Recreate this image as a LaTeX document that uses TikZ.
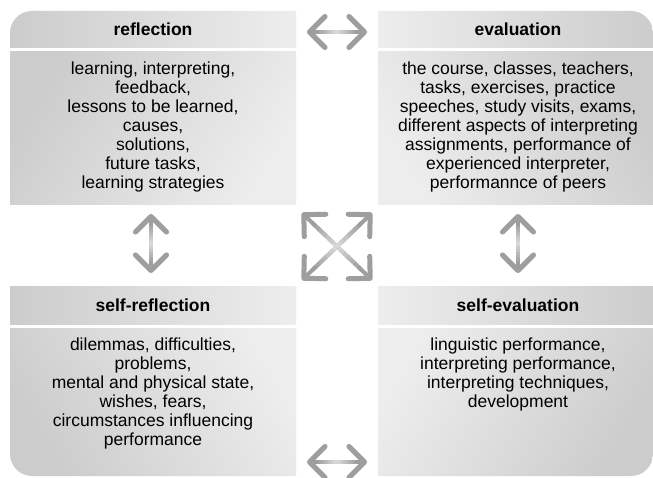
\documentclass[tikz,border=0pt]{standalone}
\usepackage{fontspec}
\setmainfont{Liberation Sans}
\usetikzlibrary{arrows.meta,calc}
\definecolor{PanelDark}{gray}{0.80}
\definecolor{PanelLight}{gray}{0.93}
\definecolor{ArrowClr}{gray}{0.62}

% double arrow, the shaft gets lighter towards its middle
\newcommand\twoway[2]{%
  \draw[arrowline] (#1) -- (#2);
  \foreach \k in {0,...,13}{%
    \pgfmathsetmacro\tone{14+24*abs(\k-6.5)/6.5}
    \pgfmathsetmacro\ta{0.15+0.05*\k}
    \pgfmathsetmacro\tb{0.205+0.05*\k}
    \draw[line width=4pt,color=black!\tone] ($(#1)!\ta!(#2)$) -- ($(#1)!\tb!(#2)$);
  }}

\begin{document}
\begin{tikzpicture}[x=1pt,y=1pt,
  headtxt/.style={font=\bfseries\fontsize{17.5}{19}\selectfont},
  bodytxt/.style={anchor=north,align=center,inner sep=0pt,font=\fontsize{17.5}{19}\selectfont},
  arrowline/.style={draw=ArrowClr,line width=4pt,
    {Straight Barb[round,angle=90:22pt,line width=5pt]}-{Straight Barb[round,angle=90:22pt,line width=5pt]}}]
\useasboundingbox[fill=white] (0,0) rectangle (653,477);

% panels: header strip and body, darker towards the outer corner
\shade[left color=PanelDark,right color=PanelLight] (10,429) -- (10,444) arc[start angle=180,end angle=90,radius=22] -- (296,466) -- (296,429) -- cycle;
\shade[left color=PanelDark,right color=PanelLight,shading angle=60] (10,272) rectangle (296,425);
\shade[left color=PanelLight,right color=PanelDark] (378,429) -- (378,466) -- (631,466) arc[start angle=90,end angle=0,radius=22] -- (653,429) -- cycle;
\shade[left color=PanelLight,right color=PanelDark,shading angle=120] (378,272) rectangle (653,425);
\shade[left color=PanelDark,right color=PanelLight] (10,153) rectangle (296,190);
\shade[left color=PanelDark,right color=PanelLight,shading angle=120] (10,23) arc[start angle=180,end angle=270,radius=22] -- (296,1) -- (296,149) -- (10,149) -- cycle;
\shade[left color=PanelLight,right color=PanelDark] (378,153) rectangle (653,190);
\shade[left color=PanelLight,right color=PanelDark,shading angle=60] (378,1) -- (631,1) arc[start angle=270,end angle=360,radius=22] -- (653,149) -- (378,149) -- cycle;

\node[headtxt] (refl) at (153,447.5) {reflection};
\node[headtxt] (eval) at (518,447.5) {evaluation};
\node[headtxt] (selfrefl) at (153,171.5) {self-reflection};
\node[headtxt] (selfeval) at (518,171.5) {self-evaluation};

\node[bodytxt] (refltxt) at (153,415) {learning, interpreting,\\ feedback,\\ lessons to be learned,\\ causes,\\ solutions,\\ future tasks,\\ learning strategies};
\node[bodytxt] (evaltxt) at (518,415) {the course, classes, teachers,\\ tasks, exercises, practice\\ speeches, study visits, exams,\\ different aspects of interpreting\\ assignments, performance of\\ experienced interpreter,\\ performannce of peers};
\node[bodytxt] (selfrefltxt) at (153,139) {dilemmas, difficulties,\\ problems,\\ mental and physical state,\\ wishes, fears,\\ circumstances influencing\\ performance};
\node[bodytxt] (selfevaltxt) at (518,139) {linguistic performance,\\ interpreting performance,\\ interpreting techniques,\\ development};

% arrow ends between the panels
\coordinate (topL) at (307,445);
\coordinate (topR) at (367,445);
\coordinate (botL) at (307,15);
\coordinate (botR) at (367,15);
\coordinate (leftU) at (151,263);
\coordinate (leftD) at (151,204);
\coordinate (rightU) at (518,263);
\coordinate (rightD) at (518,204);
\coordinate (crossNW) at (302,264);
\coordinate (crossNE) at (372,264);
\coordinate (crossSW) at (302,197);
\coordinate (crossSE) at (372,197);

\twoway{topL}{topR}
\twoway{botL}{botR}
\twoway{leftU}{leftD}
\twoway{rightU}{rightD}
\twoway{crossNW}{crossSE}
\twoway{crossNE}{crossSW}

\end{tikzpicture}
\end{document}
